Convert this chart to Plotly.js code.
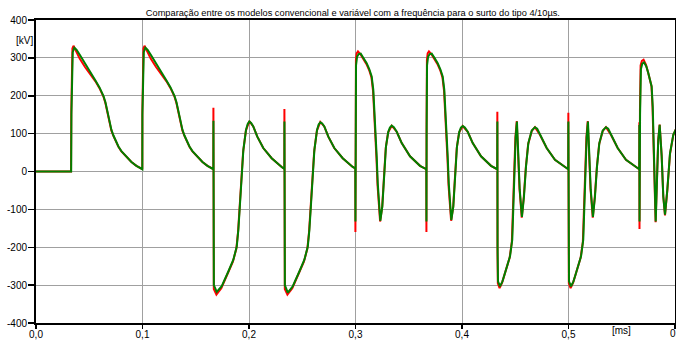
<!DOCTYPE html>
<html>
<head>
<meta charset="utf-8">
<script src="https://cdn.plot.ly/plotly-3.0.1.min.js"></script>
<style>html,body{margin:0;padding:0;background:#fff;}#chart{width:676px;height:340px;}</style>
</head>
<body>
<div id="chart"></div>
<script>
// Time axis in ms, voltage in kV
const titleText = "Comparação entre os modelos convencional e variável com a frequência para o surto do tipo 4/10µs.";
const xTickVals = [0, 0.1, 0.2, 0.3, 0.4, 0.5, 0.6];
const xTickText = ["0,0", "0,1", "0,2", "0,3", "0,4", "0,5", ""];
const xLastTickText = "0,6";
const yTickVals = [-400, -300, -200, -100, 0, 100, 200, 300, 400];
const yTickText = ["-400", "-300", "-200", "-100", "0", "100", "200", "300", "400"];

// Green series (variável com a frequência)
const greenT = [
  0, 0.0330, 0.03325, 0.0338, 0.0345, 0.0360, 0.0380, 0.0418, 0.0465, 0.0512, 0.0558, 0.0596, 0.0633, 0.0652, 0.0671, 0.0690, 0.0708, 0.0727, 0.0746, 0.0774, 0.0802, 0.0849, 0.0896, 0.0943, 0.0990,
  0.09985, 0.09992, 0.1005, 0.1012, 0.1027, 0.1047, 0.1085, 0.1132, 0.1179, 0.1225, 0.1263, 0.1300, 0.1319, 0.1338, 0.1357, 0.1375, 0.1394, 0.1413, 0.1441, 0.1469, 0.1516, 0.1563, 0.1610, 0.1657,
  0.16655, 0.16662, 0.16680, 0.16700, 0.1697, 0.1744, 0.1806, 0.1853, 0.1885, 0.1900, 0.1916, 0.1932, 0.1947, 0.1972, 0.1987, 0.2003, 0.2020, 0.2040, 0.2078, 0.2134, 0.2213, 0.2307,
  0.23322, 0.23329, 0.23347, 0.23367, 0.2364, 0.2411, 0.2473, 0.2520, 0.2552, 0.2567, 0.2583, 0.2599, 0.2614, 0.2639, 0.2654, 0.2670, 0.2687, 0.2707, 0.2745, 0.2801, 0.2880, 0.2974,
  0.29985, 0.29995, 0.3001, 0.3005, 0.3015, 0.3030, 0.3049, 0.3075, 0.3105, 0.3130, 0.3152, 0.3167, 0.3177, 0.3190, 0.3199, 0.3209, 0.3221, 0.3233, 0.3252, 0.3268, 0.3286, 0.3308, 0.3323, 0.3340, 0.3360, 0.3387, 0.3434, 0.3512, 0.3606,
  0.36652, 0.36662, 0.36677, 0.36717, 0.36817, 0.36967, 0.37157, 0.37417, 0.37717, 0.37967, 0.38187, 0.38337, 0.38437, 0.38567, 0.38657, 0.38757, 0.38877, 0.38997, 0.39187, 0.39347, 0.39527, 0.39747, 0.39897, 0.40067, 0.40267, 0.40537, 0.41007, 0.41787, 0.42727,
  0.4331, 0.43322, 0.4334, 0.4338, 0.4357, 0.4380, 0.4404, 0.4451, 0.4472, 0.4482, 0.4491, 0.4504, 0.4516, 0.4529, 0.4542, 0.4563, 0.4582, 0.4601, 0.4623, 0.4655, 0.4685, 0.4706, 0.4732, 0.4795, 0.4873, 0.4983,
  0.49977, 0.49989, 0.50007, 0.50047, 0.50237, 0.50467, 0.50707, 0.51177, 0.51387, 0.51487, 0.51577, 0.51707, 0.51827, 0.51957, 0.52087, 0.52297, 0.52487, 0.52677, 0.52897, 0.53217, 0.53517, 0.53727, 0.53987, 0.54617, 0.55397, 0.56497,
  0.56645, 0.56655, 0.56670, 0.5672, 0.5680, 0.5693, 0.5709, 0.5730, 0.5749, 0.5781, 0.5791, 0.5800, 0.5809, 0.5819, 0.5831, 0.5843, 0.5856, 0.5875, 0.5890, 0.5906, 0.5928, 0.5953, 0.5984, 0.6009
];
const greenV = [
  0, 0, 150, 290, 315, 327, 322, 305, 282, 260, 240, 222, 200, 183, 158, 132, 110, 95, 83, 66, 54, 39, 25, 15, 7,
  6, 150, 290, 315, 327, 322, 305, 282, 260, 240, 222, 200, 183, 158, 132, 110, 95, 83, 66, 54, 39, 25, 15, 7,
  6, 134, -200, -300, -318, -303, -264, -233, -198, -154, -83, -4, 57, 110, 125, 132, 128, 119, 92, 62, 35, 12,
  7, 132, -200, -300, -320, -303, -264, -233, -198, -154, -83, -4, 57, 110, 124, 130, 127, 119, 92, 62, 35, 12,
  8, -132, 100, 280, 303, 310, 311, 300, 286, 270, 251, 216, 171, 101, 40, -31, -92, -130, -92, -4, 66, 105, 116, 121, 117, 105, 75, 40, 15,
  6, -132, 100, 280, 303, 310, 311, 300, 286, 270, 251, 216, 171, 101, 40, -31, -92, -128, -92, -4, 66, 105, 116, 120, 116, 105, 75, 40, 15,
  6, 132, -200, -290, -303, -290, -268, -224, -180, -92, 13, 92, 132, 57, -48, -120, -66, 13, 75, 108, 117, 113, 97, 62, 31, 9,
  6, 132, -200, -290, -303, -290, -268, -224, -180, -92, 13, 92, 132, 57, -48, -120, -66, 13, 75, 108, 117, 113, 97, 62, 31, 9,
  6, 123, -132, 150, 270, 285, 288, 278, 260, 224, 171, 84, -22, -132, -22, 84, 123, 40, -66, -114, -48, 48, 97, 112
];

// Red series (convencional)
const redT = [
  0, 0.0329, 0.03315, 0.0336, 0.0342, 0.0352, 0.0370, 0.0410, 0.0460, 0.0512, 0.0558, 0.0596, 0.0633, 0.0652, 0.0671, 0.0690, 0.0708, 0.0727, 0.0746, 0.0774, 0.0802, 0.0849, 0.0896, 0.0943, 0.0990,
  0.09982, 0.09988, 0.1003, 0.1009, 0.1019, 0.1037, 0.1077, 0.1127, 0.1179, 0.1225, 0.1263, 0.1300, 0.1319, 0.1338, 0.1357, 0.1375, 0.1394, 0.1413, 0.1441, 0.1469, 0.1516, 0.1563, 0.1610, 0.1657,
  0.16652, 0.16658, 0.16675, 0.16695, 0.1694, 0.1740, 0.1802, 0.1849, 0.1881, 0.1897, 0.1913, 0.1929, 0.1945, 0.1971, 0.2003, 0.2040, 0.2078, 0.2134, 0.2213, 0.2307,
  0.23319, 0.23325, 0.23342, 0.23362, 0.23607, 0.24067, 0.24687, 0.25157, 0.25477, 0.25637, 0.25797, 0.25957, 0.26117, 0.26377, 0.26697, 0.27067, 0.27447, 0.28007, 0.28797, 0.29737,
  0.29982, 0.29992, 0.30005, 0.3004, 0.3011, 0.3023, 0.3045, 0.3072, 0.3102, 0.3128, 0.3150, 0.3165, 0.3175, 0.3188, 0.3197, 0.3207, 0.3219, 0.3231, 0.3250, 0.3266, 0.3284, 0.3306, 0.3340, 0.3387, 0.3434, 0.3512, 0.3606,
  0.36649, 0.36659, 0.36672, 0.36707, 0.36777, 0.36897, 0.37117, 0.37387, 0.37687, 0.37947, 0.38167, 0.38317, 0.38417, 0.38547, 0.38637, 0.38737, 0.38857, 0.38977, 0.39167, 0.39327, 0.39507, 0.39727, 0.40067, 0.40537, 0.41007, 0.41787, 0.42727,
  0.43307, 0.43318, 0.43335, 0.43365, 0.4353, 0.4376, 0.4400, 0.4447, 0.4468, 0.4479, 0.4488, 0.4501, 0.4514, 0.4527, 0.4540, 0.4561, 0.4580, 0.4599, 0.4621, 0.4655, 0.4685, 0.4732, 0.4795, 0.4873, 0.4983,
  0.49974, 0.49985, 0.50002, 0.50032, 0.50197, 0.50427, 0.50667, 0.51137, 0.51347, 0.51457, 0.51547, 0.51677, 0.51807, 0.51937, 0.52067, 0.52277, 0.52467, 0.52657, 0.52877, 0.53217, 0.53517, 0.53987, 0.54617, 0.55397, 0.56497,
  0.56642, 0.56652, 0.56667, 0.5671, 0.5677, 0.5689, 0.5705, 0.5727, 0.5747, 0.5779, 0.5789, 0.5798, 0.5807, 0.5818, 0.5830, 0.5842, 0.5856, 0.5875, 0.5890, 0.5906, 0.5928, 0.5953, 0.5984, 0.6009
];
const redV = [
  0, 0, 160, 305, 325, 332, 322, 298, 276, 256, 238, 220, 198, 180, 155, 130, 108, 94, 82, 65, 53, 38, 25, 15, 7,
  6, 160, 305, 325, 332, 322, 298, 276, 256, 238, 220, 198, 180, 155, 130, 108, 94, 82, 65, 53, 38, 25, 15, 7,
  6, 168, -220, -310, -325, -308, -268, -238, -204, -160, -90, -10, 52, 108, 133, 119, 92, 62, 35, 12,
  7, 165, -220, -310, -325, -308, -268, -238, -204, -160, -90, -10, 52, 108, 131, 119, 92, 62, 35, 12,
  8, -160, 120, 295, 312, 317, 310, 298, 284, 268, 248, 212, 166, 96, 34, -37, -98, -132, -95, -8, 62, 103, 121, 105, 75, 40, 15,
  6, -160, 120, 295, 312, 317, 310, 298, 284, 268, 248, 212, 166, 96, 34, -37, -98, -130, -95, -8, 62, 103, 120, 105, 75, 40, 15,
  6, 158, -220, -295, -308, -294, -272, -228, -186, -98, 8, 88, 133, 60, -45, -122, -68, 10, 72, 107, 117, 97, 62, 31, 9,
  6, 155, -220, -295, -308, -294, -272, -228, -186, -98, 8, 88, 133, 60, -45, -122, -68, 10, 72, 107, 117, 97, 62, 31, 9,
  6, 130, -152, 160, 280, 292, 295, 282, 262, 226, 170, 80, -28, -134, -25, 82, 124, 40, -66, -116, -50, 46, 96, 112
];

const FONT = "Liberation Sans, Arial, sans-serif";

const traces = [
  {x: redT, y: redV, type: "scatter", mode: "lines", name: "convencional",
   line: {color: "#ff0000", width: 2}, hoverinfo: "skip"},
  {x: greenT, y: greenV, type: "scatter", mode: "lines", name: "variável",
   line: {color: "#008000", width: 2}, hoverinfo: "skip"}
];

const axisCommon = {
  showgrid: true, gridcolor: "#a0a0a0", gridwidth: 1,
  zeroline: false, showline: true, linecolor: "#000", linewidth: 2, mirror: true,
  ticks: "outside", tickwidth: 1.5, tickcolor: "#000",
  tickfont: {family: FONT, size: 10, color: "#000"}, tickmode: "array"
};

const layout = {
  width: 676, height: 340,
  margin: {l: 36, r: 1, t: 20, b: 17, pad: 0},
  paper_bgcolor: "#fff", plot_bgcolor: "#fff",
  showlegend: false,
  font: {family: FONT, size: 10, color: "#000"},
  title: {text: titleText, font: {family: FONT, size: 9.25, color: "#000"},
          x: 0.522, xanchor: "center", y: 0.962, yanchor: "middle", yref: "container"},
  xaxis: Object.assign({}, axisCommon, {range: [0, 0.6], tickvals: xTickVals, ticktext: xTickText,
          ticklen: 4, ticklabelstandoff: -3}),
  yaxis: Object.assign({}, axisCommon, {range: [-400, 400], tickvals: yTickVals, ticktext: yTickText,
          ticklen: 6, ticklabelstandoff: -1}),
  annotations: [
    {text: "[kV]", xref: "paper", yref: "y", x: 0, y: 347, xanchor: "right", yanchor: "middle",
     xshift: -1, showarrow: false, font: {family: FONT, size: 10, color: "#000"}},
    {text: "[ms]", xref: "x", yref: "paper", x: 0.55, y: 0, xanchor: "center", yanchor: "middle",
     yshift: -7, showarrow: false, font: {family: FONT, size: 10, color: "#000"}},
    {text: xLastTickText, xref: "x", yref: "paper", x: 0.6, y: 0, xanchor: "left", yanchor: "middle",
     xshift: -7, yshift: -10, showarrow: false, font: {family: FONT, size: 10, color: "#000"}}
  ]
};

Plotly.newPlot("chart", traces, layout, {displayModeBar: false, staticPlot: true});
</script>
</body>
</html>
